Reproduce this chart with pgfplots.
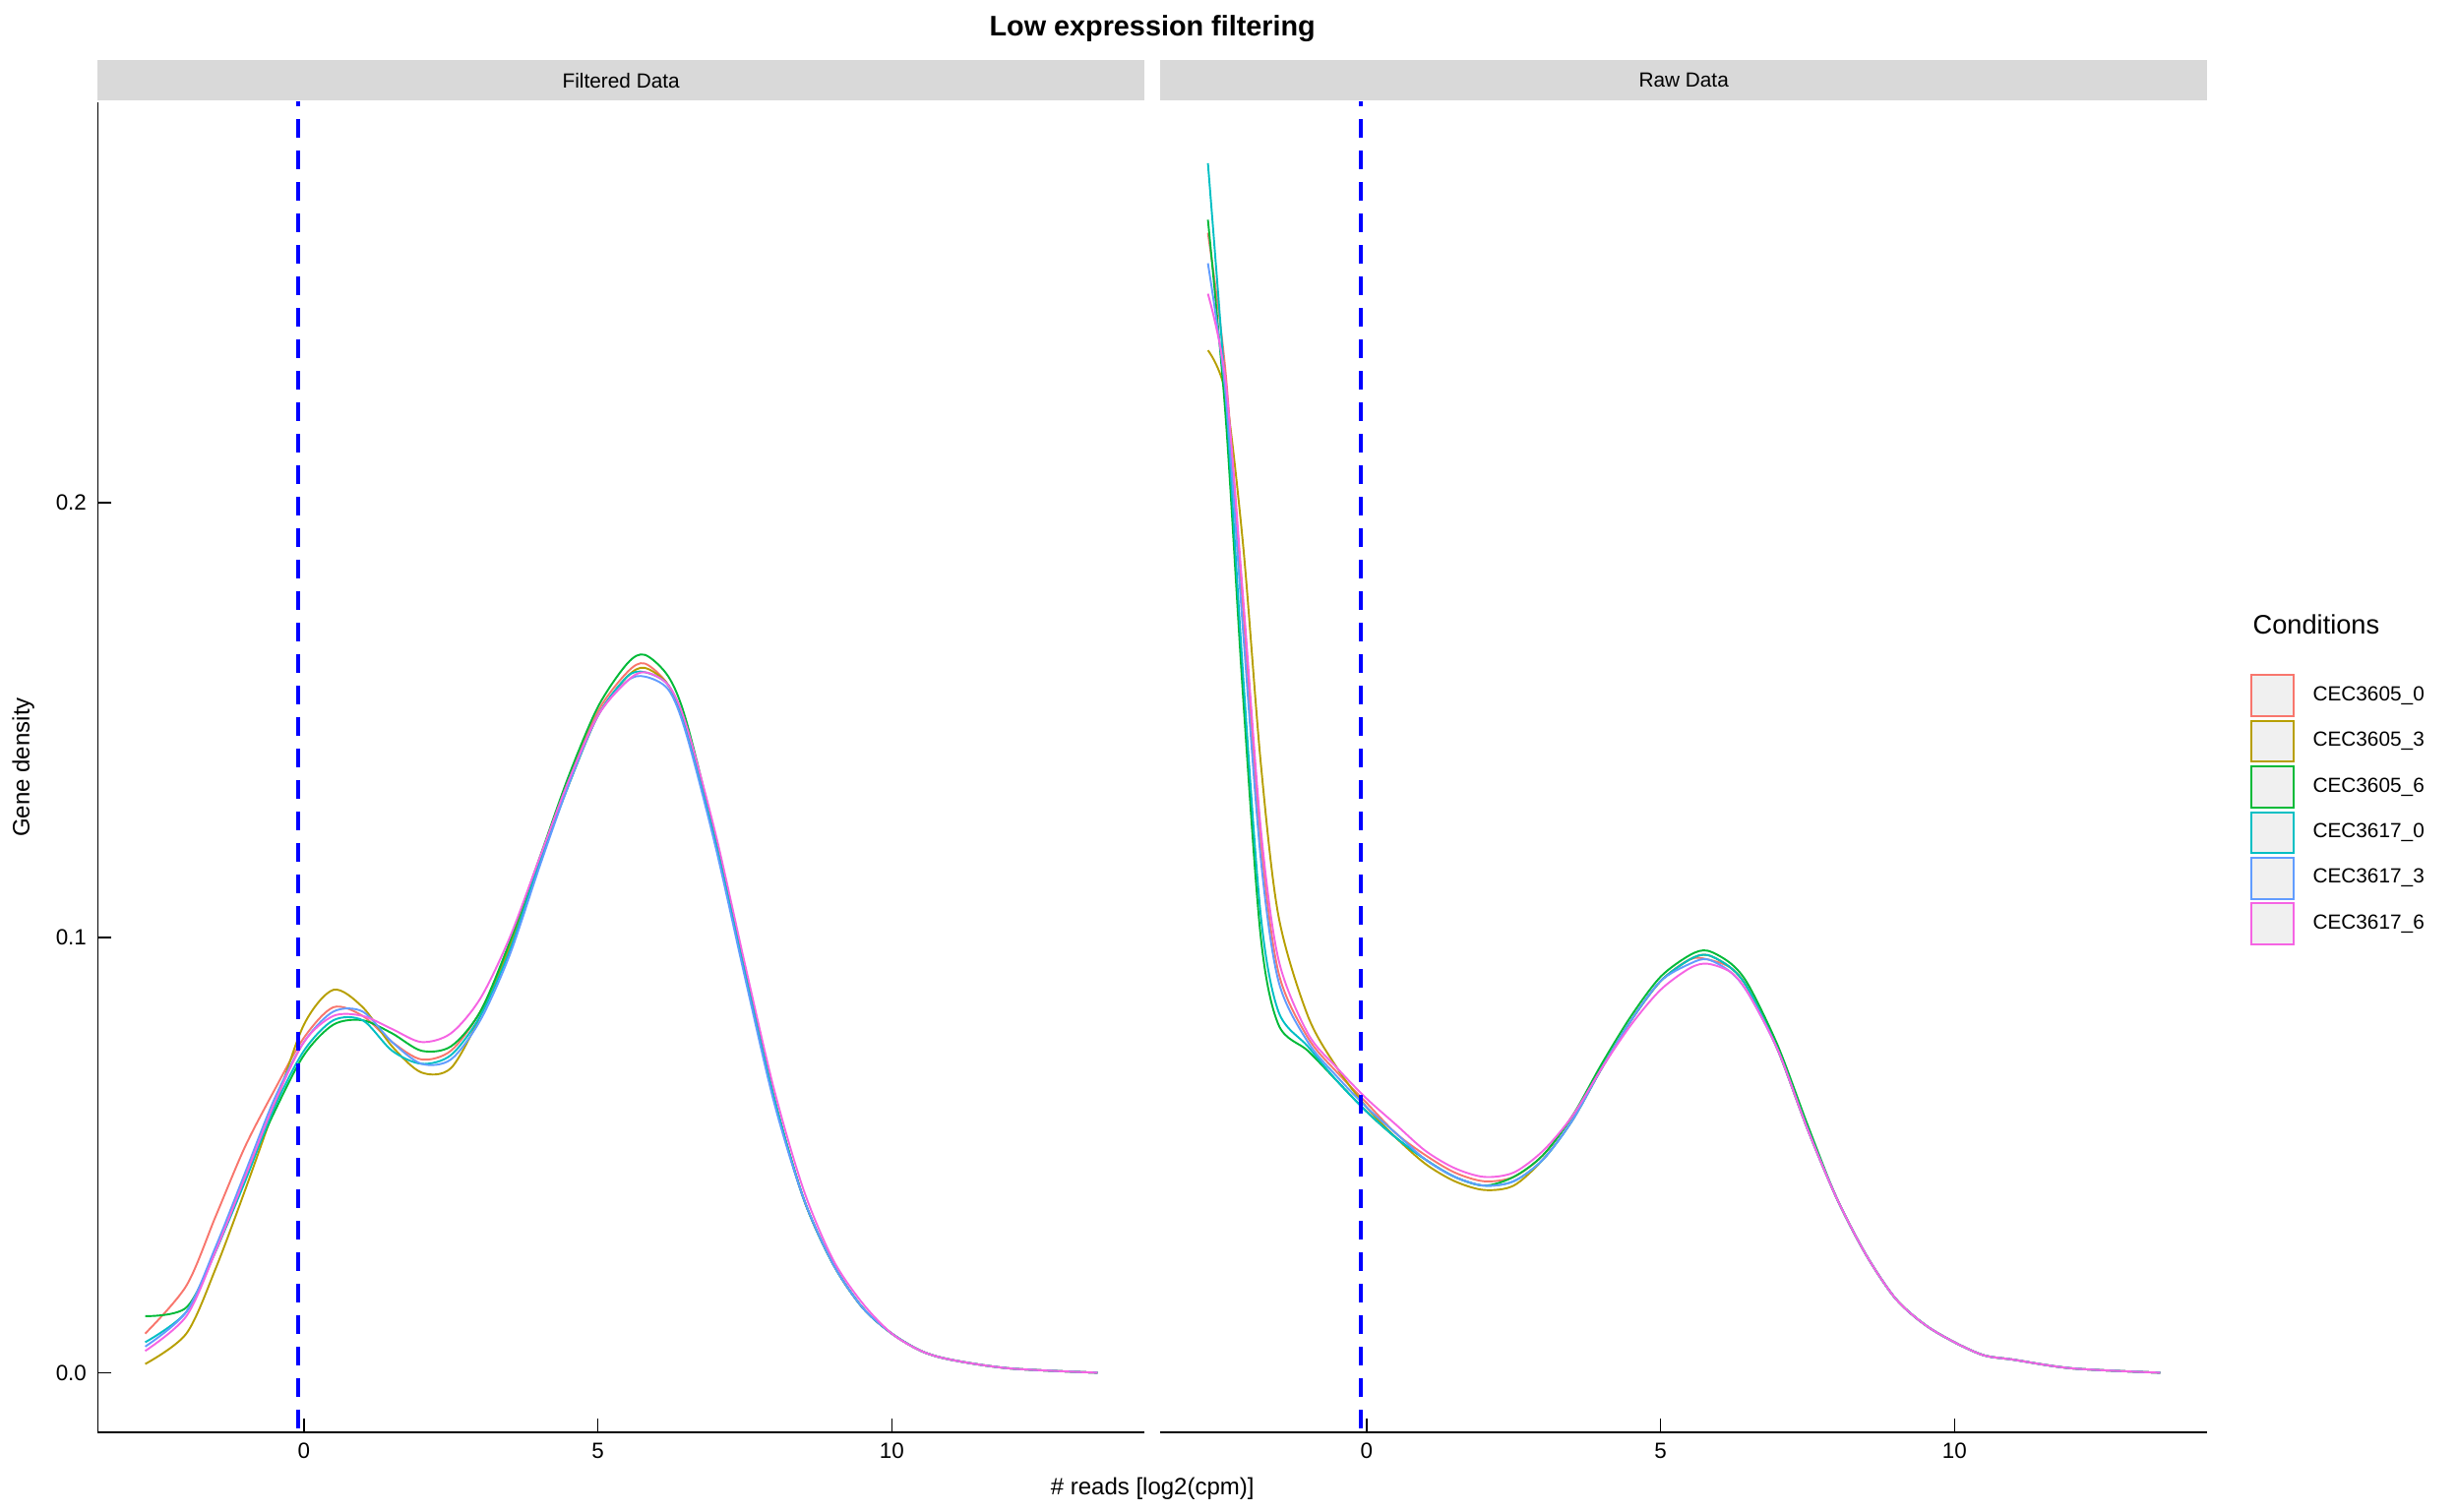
\documentclass[border=0pt]{standalone}
\usepackage{pgfplots}
\pgfplotsset{compat=1.18}
\usepackage{fontspec}
\setmainfont{Liberation Sans}
\definecolor{c1}{HTML}{F8766D}\definecolor{c2}{HTML}{B79F00}\definecolor{c3}{HTML}{00BA38}
\definecolor{c4}{HTML}{00BFC4}\definecolor{c5}{HTML}{619CFF}\definecolor{c6}{HTML}{F564E3}
\begin{document}
\begin{tikzpicture}
\useasboundingbox (0pt,0pt) rectangle (780pt,480pt);
\pgfplotsset{every axis/.style={scale only axis,width=332.5pt,height=422.5pt,
 xmin=-3.51,xmax=14.3,ymin=-0.0137,ymax=0.292,axis x line*=bottom,
 xtick={0,5,10},ytick={0,0.1,0.2},tick style={black,thin},
 ticklabel style={font=\fontsize{7}{8}\selectfont},
 /pgf/number format/assume math mode=true,
 yticklabel style={/pgf/number format/.cd,fixed,fixed zerofill,precision=1},
 every axis plot/.style={smooth,line width=0.6pt}}}
% Filtered
\begin{axis}[name=L,at={(31pt,25pt)},anchor=south west,axis y line*=left,
 ylabel={Gene density},ylabel style={font=\fontsize{7.5}{8}\selectfont}]
\addplot[c1] coordinates {(-2.7,0.009)(-2,0.02)(-1.5,0.036)(-1,0.052)(-0.5,0.065)(0,0.077)(0.5,0.084)(1,0.082)(1.5,0.076)(2,0.072)(2.5,0.074)(3,0.083)(3.5,0.098)(4,0.117)(4.5,0.136)(5,0.152)(5.5,0.161)(5.8,0.163)(6.2,0.158)(6.5,0.148)(7,0.122)(7.5,0.092)(8,0.063)(8.5,0.04)(9,0.025)(9.5,0.015)(10,0.009)(10.5,0.005)(11,0.003)(12,0.001)(13.5,0)};
\addplot[c2] coordinates {(-2.7,0.002)(-2,0.009)(-1.5,0.024)(-1,0.042)(-0.5,0.061)(0,0.08)(0.5,0.088)(1,0.084)(1.5,0.075)(2,0.069)(2.5,0.07)(3,0.082)(3.5,0.098)(4,0.117)(4.5,0.135)(5,0.151)(5.5,0.16)(5.8,0.162)(6.2,0.158)(6.5,0.148)(7,0.122)(7.5,0.092)(8,0.063)(8.5,0.04)(9,0.025)(9.5,0.015)(10,0.009)(10.5,0.005)(11,0.003)(12,0.001)(13.5,0)};
\addplot[c3] coordinates {(-2.7,0.013)(-2,0.015)(-1.5,0.028)(-1,0.045)(-0.5,0.06)(0,0.073)(0.5,0.08)(1,0.081)(1.5,0.078)(2,0.074)(2.5,0.075)(3,0.083)(3.5,0.099)(4,0.118)(4.5,0.137)(5,0.153)(5.5,0.163)(5.8,0.165)(6.2,0.16)(6.5,0.15)(7,0.123)(7.5,0.093)(8,0.063)(8.5,0.04)(9,0.025)(9.5,0.015)(10,0.009)(10.5,0.005)(11,0.003)(12,0.001)(13.5,0)};
\addplot[c4] coordinates {(-2.7,0.007)(-2,0.014)(-1.5,0.028)(-1,0.044)(-0.5,0.061)(0,0.074)(0.5,0.081)(1,0.081)(1.5,0.074)(2,0.071)(2.5,0.073)(3,0.082)(3.5,0.097)(4,0.117)(4.5,0.135)(5,0.151)(5.5,0.16)(5.8,0.161)(6.2,0.158)(6.5,0.148)(7,0.122)(7.5,0.092)(8,0.063)(8.5,0.04)(9,0.025)(9.5,0.015)(10,0.009)(10.5,0.005)(11,0.003)(12,0.001)(13.5,0)};
\addplot[c5] coordinates {(-2.7,0.006)(-2,0.014)(-1.5,0.029)(-1,0.046)(-0.5,0.063)(0,0.076)(0.5,0.083)(1,0.083)(1.5,0.076)(2,0.071)(2.5,0.072)(3,0.081)(3.5,0.096)(4,0.116)(4.5,0.135)(5,0.151)(5.5,0.159)(5.8,0.16)(6.2,0.157)(6.5,0.147)(7,0.121)(7.5,0.091)(8,0.062)(8.5,0.04)(9,0.025)(9.5,0.015)(10,0.009)(10.5,0.005)(11,0.003)(12,0.001)(13.5,0)};
\addplot[c6] coordinates {(-2.7,0.005)(-2,0.013)(-1.5,0.028)(-1,0.045)(-0.5,0.062)(0,0.076)(0.5,0.082)(1,0.082)(1.5,0.079)(2,0.076)(2.5,0.078)(3,0.086)(3.5,0.1)(4,0.118)(4.5,0.136)(5,0.151)(5.5,0.159)(5.8,0.161)(6.2,0.158)(6.5,0.149)(7,0.124)(7.5,0.094)(8,0.065)(8.5,0.042)(9,0.026)(9.5,0.016)(10,0.009)(10.5,0.005)(11,0.003)(12,0.001)(13.5,0)};
\addplot[blue,line width=1.5pt,dash pattern=on 6pt off 4pt,sharp plot] coordinates {(-0.1,-0.02)(-0.1,0.3)};
\end{axis}
% Raw
\begin{axis}[name=R,at={(368.5pt,25pt)},anchor=south west,ytick=\empty,axis y line=none]
\addplot[c1] coordinates {(-2.7,0.262)(-2.4,0.23)(-2.1,0.175)(-1.8,0.122)(-1.5,0.092)(-1,0.077)(-0.5,0.069)(0,0.062)(0.5,0.055)(1,0.05)(1.5,0.046)(2,0.044)(2.5,0.045)(3,0.05)(3.5,0.059)(4,0.07)(4.5,0.081)(5,0.09)(5.5,0.095)(5.8,0.095)(6.2,0.093)(6.5,0.088)(7,0.074)(7.5,0.056)(8,0.04)(8.5,0.027)(9,0.017)(9.5,0.011)(10,0.007)(10.5,0.004)(11,0.003)(12,0.001)(13.5,0)};
\addplot[c2] coordinates {(-2.7,0.235)(-2.4,0.225)(-2.1,0.19)(-1.8,0.14)(-1.5,0.105)(-1,0.082)(-0.5,0.07)(0,0.061)(0.5,0.054)(1,0.048)(1.5,0.044)(2,0.042)(2.5,0.043)(3,0.049)(3.5,0.058)(4,0.07)(4.5,0.081)(5,0.09)(5.5,0.095)(5.8,0.096)(6.2,0.093)(6.5,0.088)(7,0.074)(7.5,0.056)(8,0.04)(8.5,0.027)(9,0.017)(9.5,0.011)(10,0.007)(10.5,0.004)(11,0.003)(12,0.001)(13.5,0)};
\addplot[c3] coordinates {(-2.7,0.265)(-2.4,0.22)(-2.1,0.155)(-1.8,0.1)(-1.5,0.08)(-1,0.074)(-0.5,0.067)(0,0.06)(0.5,0.054)(1,0.049)(1.5,0.045)(2,0.043)(2.5,0.045)(3,0.05)(3.5,0.059)(4,0.071)(4.5,0.082)(5,0.091)(5.5,0.096)(5.8,0.097)(6.2,0.094)(6.5,0.089)(7,0.075)(7.5,0.057)(8,0.04)(8.5,0.027)(9,0.017)(9.5,0.011)(10,0.007)(10.5,0.004)(11,0.003)(12,0.001)(13.5,0)};
\addplot[c4] coordinates {(-2.7,0.278)(-2.4,0.225)(-2.1,0.16)(-1.8,0.105)(-1.5,0.083)(-1,0.075)(-0.5,0.067)(0,0.06)(0.5,0.054)(1,0.049)(1.5,0.045)(2,0.043)(2.5,0.044)(3,0.049)(3.5,0.058)(4,0.07)(4.5,0.081)(5,0.09)(5.5,0.095)(5.8,0.096)(6.2,0.093)(6.5,0.088)(7,0.074)(7.5,0.056)(8,0.04)(8.5,0.027)(9,0.017)(9.5,0.011)(10,0.007)(10.5,0.004)(11,0.003)(12,0.001)(13.5,0)};
\addplot[c5] coordinates {(-2.7,0.255)(-2.4,0.225)(-2.1,0.17)(-1.8,0.118)(-1.5,0.09)(-1,0.076)(-0.5,0.068)(0,0.061)(0.5,0.055)(1,0.049)(1.5,0.045)(2,0.043)(2.5,0.044)(3,0.049)(3.5,0.058)(4,0.07)(4.5,0.081)(5,0.09)(5.5,0.094)(5.8,0.095)(6.2,0.092)(6.5,0.087)(7,0.074)(7.5,0.056)(8,0.04)(8.5,0.027)(9,0.017)(9.5,0.011)(10,0.007)(10.5,0.004)(11,0.003)(12,0.001)(13.5,0)};
\addplot[c6] coordinates {(-2.7,0.248)(-2.4,0.228)(-2.1,0.178)(-1.8,0.125)(-1.5,0.095)(-1,0.078)(-0.5,0.07)(0,0.063)(0.5,0.057)(1,0.051)(1.5,0.047)(2,0.045)(2.5,0.046)(3,0.051)(3.5,0.059)(4,0.07)(4.5,0.08)(5,0.088)(5.5,0.093)(5.8,0.094)(6.2,0.092)(6.5,0.087)(7,0.074)(7.5,0.056)(8,0.04)(8.5,0.027)(9,0.017)(9.5,0.011)(10,0.007)(10.5,0.004)(11,0.003)(12,0.001)(13.5,0)};
\addplot[blue,line width=1.5pt,dash pattern=on 6pt off 4pt,sharp plot] coordinates {(-0.1,-0.02)(-0.1,0.3)};
\end{axis}
\foreach \a/\t in {L/Filtered Data,R/Raw Data}{
 \fill[gray!30] ([yshift=0.5pt]\a.north west) rectangle ([yshift=13.5pt]\a.north east);
 \node[font=\fontsize{6.5}{7}\selectfont] at ([yshift=7pt]\a.north) {\t};}
\node[font=\bfseries\fontsize{9}{10}\selectfont] at (366pt,471pt) {Low expression filtering};
\node[font=\fontsize{7.5}{8}\selectfont] at (366pt,7pt) {\# reads [log2(cpm)]};
\node[anchor=west,font=\fontsize{8.5}{9}\selectfont] at (712pt,281.5pt) {Conditions};
\foreach \c/\n [count=\i] in {c1/CEC3605\_0,c2/CEC3605\_3,c3/CEC3605\_6,c4/CEC3617\_0,c5/CEC3617\_3,c6/CEC3617\_6}{
 \draw[\c,fill=gray!12,line width=0.6pt] (715pt,{(265.5-14.5*(\i-1))*1pt}) rectangle (728.5pt,{(252.5-14.5*(\i-1))*1pt});
 \node[anchor=west,font=\fontsize{6.5}{7}\selectfont] at (731pt,{(259-14.5*(\i-1))*1pt}) {\n};}
\end{tikzpicture}
\end{document}
